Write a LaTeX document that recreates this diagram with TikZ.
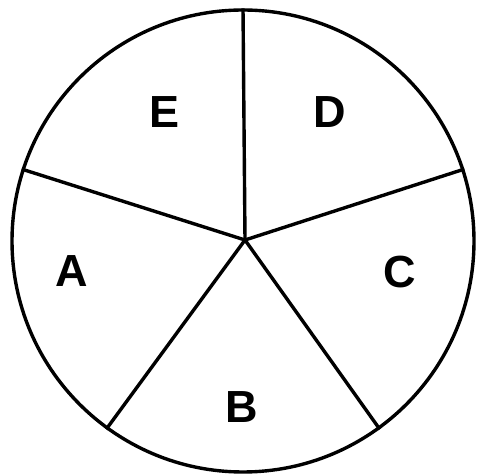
\documentclass[tikz,border=0pt]{standalone}
\usepackage{fontspec}
\setmainfont{Liberation Sans}
\usetikzlibrary{positioning}
\tikzset{
  disc/.style={draw=black, line width=3.4pt, circle, minimum size=462pt, inner sep=0pt},
  spoke/.style={draw=black, line width=3.4pt},
  sector/.style={font=\fontsize{45}{45}\selectfont\bfseries, inner sep=0pt}
}
\begin{document}
\begin{tikzpicture}[x=1pt, y=1pt]
  \useasboundingbox (0,0) rectangle (479,476);
  \node[disc] (rim) at (243,235) {};
  \coordinate (hub) at (245,236);

  \node[sector] (e) at (165,364) {E};
  \node[sector] (d) at (330,364) {D};
  \node[sector] (c) at (400,204) {C};
  \node[sector] (b) at (242,69) {B};
  \node[sector] (a) at (72,205) {A};

  \draw[spoke] (hub) -- (rim.90);
  \draw[spoke] (hub) -- (rim.18);
  \draw[spoke] (hub) -- (rim.-54);
  \draw[spoke] (hub) -- (rim.-126);
  \draw[spoke] (hub) -- (rim.162);
\end{tikzpicture}
\end{document}
